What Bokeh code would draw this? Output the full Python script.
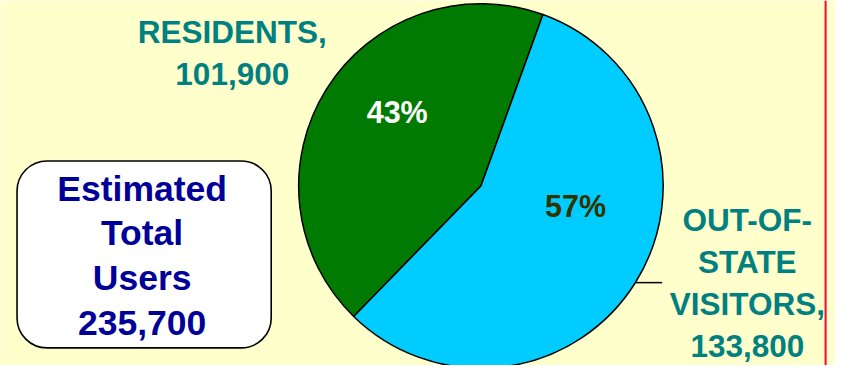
import math
from bokeh.plotting import figure
from bokeh.models import Range1d, BoxAnnotation, Span
from bokeh.core.properties import value
from bokeh.embed import file_html
from bokeh.resources import INLINE

# ---- data ----
categories = ["RESIDENTS", "OUT-OF-STATE VISITORS"]
label_lines = [["RESIDENTS,"], ["OUT-OF-", "STATE", "VISITORS,"]]
users = [101900, 133800]
slice_colors = ["#007A00", "#00CCFF"]
pct_colors = ["#FFFFFF", "#333300"]
total_words = ["Estimated", "Total", "Users"]

total = sum(users)

# ---- layout (styles / positions) ----
W, H = 835, 365
REF_W, REF_H = 843, 373
FS = 0.985  # font scale to fit the reference frame into the figure
FONT = value("Liberation Sans")
TEAL = "#008080"
NAVY = "#000099"


def Y(img_y):
    return REF_H - img_y


def px(size):
    return f"{size * FS:.1f}px"


def add_text(x, baseline, t, size, color):
    # place by cap-height centre with a "middle" baseline
    p.text(x=[x], y=[Y(baseline - 0.35 * size)], text=[t],
           text_font=FONT, text_font_style="bold", text_font_size=px(size),
           text_color=color, text_align="center", text_baseline="middle")


p = figure(width=W, height=H, output_backend="svg", toolbar_location=None,
           x_range=Range1d(0, REF_W), y_range=Range1d(0, REF_H),
           x_axis_type=None, y_axis_type=None, min_border=0,
           background_fill_color="#FFFFCC", border_fill_color="#FFFFCC",
           outline_line_color=None)
p.xgrid.visible = False
p.ygrid.visible = False

# total box (under the glyphs)
box = BoxAnnotation(left=16.7, right=273.3, top=Y(164), bottom=Y(355),
                    fill_color="white", fill_alpha=1.0,
                    line_color="black", line_alpha=1.0, line_width=1.6,
                    border_radius=30, level="underlay")
p.add_layout(box)

# pie
cx, cy, r = 485, Y(189.5), 184
start = math.radians(70.1)
angles = []
a = start
for v in users:
    sweep = v / total * 2 * math.pi
    angles.append((a, a + sweep))
    a += sweep
p.wedge(x=[cx] * len(users), y=[cy] * len(users), radius=r,
        start_angle=[s for s, e in angles], end_angle=[e for s, e in angles],
        fill_color=slice_colors, line_color="black", line_width=1.5,
        direction="anticlock")

# leader line for visitors
p.line(x=[641, 668], y=[Y(288.3), Y(288.3)], line_color="black", line_width=1.5)

# percent labels
pct_pos = [(400.5, 125), (580.5, 220.7)]
for v, (lx, ly), c in zip(users, pct_pos, pct_colors):
    add_text(lx, ly, f"{round(v / total * 100)}%", 31, c)

# category labels
cat_pos = [(234, 43.3, 42.7), (754, 235.5, 42.8)]
for lines, v, (lx, ly, dy) in zip(label_lines, users, cat_pos):
    all_lines = lines + [f"{v:,}"]
    for i, t in enumerate(all_lines):
        add_text(lx, ly + i * dy, t, 32, TEAL)

# total box text
box_lines = total_words + [f"{total:,}"]
for i, t in enumerate(box_lines):
    add_text(143, 205 + i * 45.6, t, 36, NAVY)

# red right border
p.add_layout(Span(location=833, dimension="height", line_color="#FF0033", line_width=2))

open("out.html", "w").write(file_html(p, INLINE))
